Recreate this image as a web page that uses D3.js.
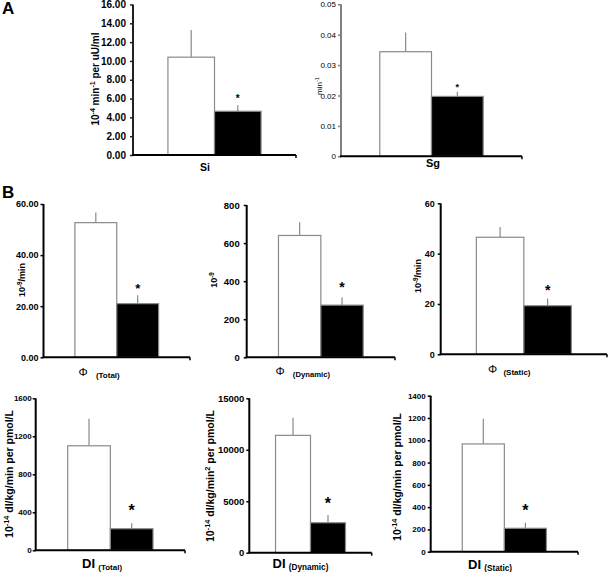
<!DOCTYPE html>
<html><head><meta charset="utf-8">
<script src="https://cdn.jsdelivr.net/npm/d3@7"></script>
<style>body{margin:0;background:#fff}svg{display:block}text{font-family:"Liberation Sans",Arial,sans-serif}</style>
</head><body>
<script>
// ---- data ----
const panels = ["Si","Sg","PhiTotal","PhiDynamic","PhiStatic","DITotal","DIDynamic","DIStatic"];
const groups = ["control","treated"];
const controlMean = [10.4, 0.0344, 52.7, 640, 46.5, 1100, 11400, 967];
const controlErr  = [2.9, 0.0063, 4.0, 69, 4.1, 285, 1710, 227];
const treatedMean = [4.65, 0.0197, 21.0, 274, 19.3, 227, 2910, 210];
const treatedErr  = [0.65, 0.0015, 3.3, 41, 2.9, 57, 750, 50];
const yMax = [16, 0.05, 60, 800, 60, 1600, 15000, 1400];
const tickValues = [
  [0,2,4,6,8,10,12,14,16],
  [0,0.01,0.02,0.03,0.04,0.05],
  [0,20,40,60],
  [0,200,400,600,800],
  [0,20,40,60],
  [0,400,800,1200,1600],
  [0,5000,10000,15000],
  [0,200,400,600,800,1000,1200,1400]
];
const tickLabels = [
  ["0.00","2.00","4.00","6.00","8.00","10.00","12.00","14.00","16.00"],
  ["0","0.01","0.02","0.03","0.04","0.05"],
  ["0.00","20.00","40.00","60.00"],
  ["0","200","400","600","800"],
  ["0","20","40","60"],
  ["0","400","800","1200","1600"],
  ["0","5000","10000","15000"],
  ["0","200","400","600","800","1000","1200","1400"]
];
const yLabels = [
  [["10"],["-4",1],[" min"],["-1",1],[" per uU/ml"]],
  [["min"],["-1",1]],
  [["10"],["-9",1],["/min"]],
  [["10"],["-9",1]],
  [["10"],["-9",1],["/min"]],
  [["10"],["-14",1],[" dl/kg/min per pmol/L"]],
  [["10"],["-14",1],[" dl/kg/min"],["2",1],[" per pmol/L"]],
  [["10"],["-14",1],[" dl/kg/min per pmol/L"]]
];
const xLabelMain = ["Si","Sg","\u03A6","\u03A6","\u03A6","DI","DI","DI"];
const xLabelSub  = ["","","(Total)","(Dynamic)","(Static)","(Total)","(Dynamic)","(Static)"];
const sigMark = "*";

// ---- layout (positions / styles) ----
// xl: [x, baseline y, main size, main weight, sub size, sub weight, anchor, sub dx]
const L = [
 {x0:133,x1:296,top:4.5,bot:155, tf:10,tw:"bold",tp:4, yax:"#222", lx:95,ly:79,lf:10,lw:"bold", xl:[205,171,10.5,"bold",0,0,"middle",0], st:[10,96.5]},
 {x0:341,x1:522,top:4.3,bot:156.3, tf:8,tw:"normal",tp:2, yax:"#808080", lx:319,ly:86,lf:8,lw:"normal", xl:[433,166.5,11,"bold",0,0,"middle",0], st:[9,85]},
 {x0:43.5,x1:190,top:204,bot:357.3, tf:9,tw:"bold",tp:2, yax:"#000", lx:22,ly:280,lf:9,lw:"bold", xl:[78.5,376,11.5,"normal",8,"bold","start",6], st:[13,285]},
 {x0:246.7,x1:395,top:205,bot:357.3, tf:9.5,tw:"bold",tp:4, yax:"#000", lx:214,ly:280,lf:9,lw:"bold", xl:[275.5,375,11.5,"normal",7.7,"bold","start",6], st:[14,284.3]},
 {x0:440.7,x1:607,top:203.3,bot:354.3, tf:9,tw:"bold",tp:3, yax:"#000", lx:418,ly:276,lf:9,lw:"bold", xl:[488,373,11.5,"normal",8,"bold","start",4], st:[14,286.7]},
 {x0:35.7,x1:185,top:398.3,bot:550.3, tf:8,tw:"bold",tp:1, yax:"#000", lx:9.5,ly:474,lf:10.5,lw:"bold", xl:[82,568,13,"bold",8,"bold","start",1], st:[16,506.7]},
 {x0:249.3,x1:371.7,top:398.3,bot:552.7, tf:9.5,tw:"bold",tp:2, yax:"#000", lx:210.5,ly:476,lf:10.5,lw:"bold", xl:[272.5,568,13,"bold",8.2,"bold","start",1], st:[16,499.3]},
 {x0:430.7,x1:578,top:395.7,bot:551.7, tf:8,tw:"bold",tp:2, yax:"#000", lx:397.5,ly:477,lf:10.5,lw:"bold", xl:[468,569,13,"bold",8.2,"bold","start",1], st:[16,506.7]}
];

const W = 608, H = 572;
const svg = d3.select("body").append("svg").attr("width",W).attr("height",H);

function rich(sel, segs, fs){
  let shifted = false;
  segs.forEach(s=>{
    const t = sel.append("tspan").text(s[0]);
    if (s[1]) { t.attr("font-size", fs*0.7).attr("dy", shifted? 0 : -fs*0.4); shifted = true; }
    else { if (shifted) { t.attr("dy", fs*0.4); shifted=false; } }
  });
}

panels.forEach((p,i)=>{
  const c = L[i];
  const g = svg.append("g");
  const y = d3.scaleLinear().domain([0, yMax[i]]).range([c.bot, c.top]);
  const x = d3.scaleBand().domain(groups).range([c.x0, c.x1]).paddingInner(0).paddingOuter(0.75);
  const means = [controlMean[i], treatedMean[i]];
  const errs = [controlErr[i], treatedErr[i]];
  const data = groups.map((k,j)=>({k, v:means[j], e:errs[j]}));

  // error bars (up only)
  g.selectAll("line.err").data(data).join("line")
    .attr("x1", d=>x(d.k)+x.bandwidth()/2).attr("x2", d=>x(d.k)+x.bandwidth()/2)
    .attr("y1", d=>y(d.v)).attr("y2", d=>y(d.v+d.e))
    .attr("stroke","#8a8a8a").attr("stroke-width",1.2);
  // bars
  g.selectAll("rect.bar").data(data).join("rect")
    .attr("x", d=>x(d.k)).attr("width", x.bandwidth())
    .attr("y", d=>y(d.v)).attr("height", d=>y(0)-y(d.v))
    .attr("fill", d=>d.k==="control"?"#fff":"#000")
    .attr("stroke","#8a8a8a").attr("stroke-width",1.2);

  // y axis
  const ax = d3.axisLeft(y).tickValues(tickValues[i]).tickSize(3).tickPadding(c.tp)
    .tickFormat((d,j)=>tickLabels[i][j]);
  const ag = g.append("g").attr("transform",`translate(${c.x0},0)`).call(ax);
  ag.select(".domain").attr("d",`M0,${c.top}V${c.bot}`).attr("stroke",c.yax).attr("stroke-width",2);
  ag.selectAll(".tick line").attr("stroke",c.yax).attr("stroke-width",1.5);
  ag.selectAll(".tick text").attr("font-size",c.tf).attr("font-weight",c.tw).attr("fill","#000")
    .attr("font-family",'"Liberation Sans",Arial,sans-serif');

  // x axis
  const xg = g.append("g");
  xg.append("line").attr("x1",c.x0-1).attr("x2",c.x1).attr("y1",c.bot).attr("y2",c.bot)
    .attr("stroke","#000").attr("stroke-width",2);
  xg.append("line").attr("x1",c.x1).attr("x2",c.x1).attr("y1",c.bot).attr("y2",c.bot+3)
    .attr("stroke","#000").attr("stroke-width",1.5);

  // y label
  const yl = g.append("text").attr("transform",`translate(${c.lx},${c.ly}) rotate(-90)`)
    .attr("text-anchor","middle").attr("dy","0.35em")
    .attr("font-size",c.lf).attr("font-weight",c.lw);
  rich(yl, yLabels[i], c.lf);

  // x label
  const xl = c.xl;
  const xt = g.append("text").attr("x",xl[0]).attr("y",xl[1]).attr("text-anchor",xl[6])
    .attr("font-size",xl[2]).attr("font-weight",xl[3]);
  xt.append("tspan").text(xLabelMain[i]);
  if (xLabelSub[i]) xt.append("tspan").text(" "+xLabelSub[i]).attr("font-size",xl[4]).attr("font-weight",xl[5]).attr("dy",1.5).attr("dx",xl[7]);

  // significance star
  g.append("text").attr("x", x("treated")+x.bandwidth()/2).attr("y", c.st[1]+0.58*c.st[0])
    .attr("text-anchor","middle").attr("font-size",c.st[0]).attr("font-weight","bold").text(sigMark);
});

// panel letters
svg.append("text").attr("x",2).attr("y",14).attr("font-size",17).attr("font-weight","bold").text("A");
svg.append("text").attr("x",2).attr("y",198).attr("font-size",17).attr("font-weight","bold").text("B");
</script>
</body></html>
